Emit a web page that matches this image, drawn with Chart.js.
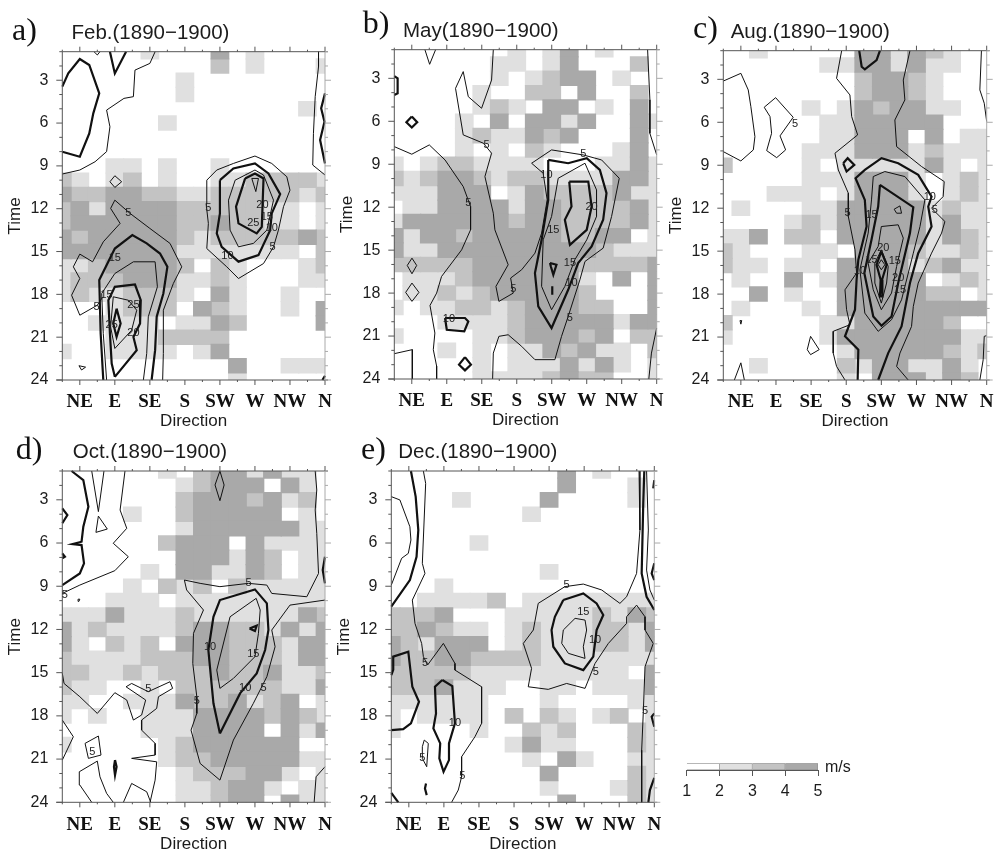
<!DOCTYPE html>
<html><head><meta charset="utf-8">
<style>
html,body{margin:0;padding:0;background:#fff;width:999px;height:852px;overflow:hidden}
canvas{position:absolute;display:block;filter:blur(0.4px)}
</style>
<script src="https://cdn.jsdelivr.net/npm/chart.js@4/dist/chart.umd.min.js"></script>
</head><body>
<script>
// ---- categories and tick labels ----
const directionLabels = {2:'NE',4:'E',6:'SE',8:'S',10:'SW',12:'W',14:'NW',16:'N'};
const timeTicks = [3,6,9,12,15,18,21,24];
const bandColors = ['#ffffff','#e0e0e0','#c3c3c3','#a9a9a9'];
const scaleTicks = [1,2,3,4,5];

// ---- wind-speed band per hour (rows 1..24) and direction sector (columns 1..16) ----
const febBands = ["0000010003010000","0000000002010001","0000000100000000","0000000100000000","0000000000000010","0000001000000000","0000000000000000","0000000000000000","0001101001000000","2101201001122221","3223322112222212","2313333222221101","2333333223221101","3233333212222232","3333333111111102","1123333202100012","1222333112100011","1211222103100100","0001222032100103","0011110113200003","0001112222000000","1001111013000000","0000000000300111","0000000000100000"];
const mayBands = ["0000000101301000","0000001101300020","0000001012330100","0000010022030020","0000012103301030","0000103033130031","0000121132300030","0000101021000130","1012211110001131","2123321221111331","1113330132222311","0113333133222231","1333333233222231","3133233333223301","3113333333332111","2222233333322223","0111233333310303","0112123333320003","1011221233322003","0001111233333133","1000011233323022","0001010113231102","0000010111313101","0000011112322001"];
const augBands = ["0010000033132100","0000001133131100","0000000023321000","0000000023321000","0000010132331100","0000001133333000","0000001133303011","0000011133312111","2000010111113101","0000011133310121","0001110133310121","0100011333331211","0000121333331311","1130220333331321","2100011033321121","2110110333312311","0100301333330121","0030100333332201","0100010333333333","2000001133333200","1000001333333311","0000000133333212","0010000213311310","0000000103331320"];
const octBands = ["0000001023313110","0000000123330310","0000000233323120","0000100233333010","0000000133333311","0000002333031111","0000000333132011","0000010331132011","0000102120211111","0001110111111111","1113111211111132","3121111233221313","3102120333222133","2111122233222133","2211212223223112","2110010222222113","1100111322312301","1010011133332321","0000011133330313","1000001233333300","0000001223333311","0000000122233101","0000000112331011","0000000112330311"];
const decBands = ["0000000000301000","0000000000300010","0000100003000010","0000000010000000","0000000000000000","0000010000000000","0000000000000000","0000000001000000","0001000000000000","0011112011111111","2223000111112132","2232110121112213","3213330121112213","3223322221111111","2222211111111103","2223111001101113","1111110001000011","1011110202101201","1000010021200021","0000000131100021","0000000010310011","0000000003000021","0000000001000121","0000000000300021"];

// ---- contours as [direction sector, hour] ----
const febThin = [
[[1,9.57],[2,9.29],[2.87,8.71],[3.53,8],[3.72,6.26],[3.53,5.09],[4.52,4.27],[5.06,4.15],[5.15,2.29],[6,1.82],[6.3,1]],
[[2.81,1],[3,1.23],[3.15,1]],
[[15.63,1],[15.63,2.05],[15.44,4.15],[15.34,6.72],[15.3,8.94],[16,9.64]],
[[4,9.69],[4.39,10.11],[4,10.51],[3.72,10.11],[4,9.69]],
[[9.25,10],[9.82,9.29],[10.77,8.83],[12,8.31],[12.96,8.83],[13.82,9.76],[14,10.7],[13.63,11.86],[13.34,13.5],[13.06,14.67],[12.49,15.84],[11.06,16.89],[10.39,16.07],[9.25,14.79],[9.34,13.03],[9.21,11.63],[9.25,10]],
[[10.49,11.4],[10.87,10],[12,9.29],[12.49,9.64],[13.06,11.4],[12.68,13.5],[11.91,14.43],[11.06,14.67],[10.58,13.5],[10.49,11.4]],
[[11.82,9.88],[12.2,9.88],[12.05,10.8],[11.82,9.88]],
[[6.73,24],[6.77,22.14],[6.77,19.11],[7.34,17.24],[7.82,16.07],[7.15,14.43],[6,13.38],[4.87,12.33],[4,11.4],[3.76,11.98],[4.3,13.03],[3.34,14.32],[2.73,15.72],[2,15.18],[1.63,16.07],[2,16.89],[1.53,18.06],[2,19.46],[3,18.76],[3.3,18.2]],
[[3.53,24],[3.34,20.74],[3.25,17.94],[4,16.54],[5.06,15.72],[6.3,15.72],[6.43,17.47],[5.91,19.57],[5.82,22.14],[5.63,24]],
[[4,21.79],[3.76,20.28],[3.91,18.17],[4.77,18.41],[5.25,19.11],[4.96,20.51],[4,21.79]],
[[1.95,23],[2.33,23.1],[2.1,23.3],[1.95,23]]
];
const febThick = [
[[1,3.45],[1.34,2.52],[2,1.51],[2.54,1.93],[3.11,3.92],[2.77,5.32],[2.54,6.72],[2,8.36],[1,8.01]],
[[3.72,1],[4,2.52],[4.64,1]],
[[16,3.92],[15.78,4.97],[15.97,5.91],[15.72,7.19],[16,8.83]],
[[10,10],[10.77,9.18],[12,8.83],[12.77,9.53],[13.44,10.98],[12.96,12.33],[12.87,13.5],[12.2,15.25],[11.06,15.71],[10.1,14.67],[9.82,13.73],[10,12.33],[10,10]],
[[11.44,9.88],[12,9.53],[12.49,9.88],[12.39,13.27],[12.1,13.73],[11.06,13.03],[10.92,11.86],[11.44,9.88]],
[[3.34,24],[3.19,20.74],[3.11,17],[4,14.79],[5,13.85],[5.82,14.43],[6.58,15.14],[7,16.07],[6.77,17.94],[6.39,19.57],[6.3,21.91],[6.1,24]],
[[4,23.78],[3.82,22.85],[3.72,20.74],[3.63,18.41],[4,17.47],[5.15,17.31],[5.48,18.41],[5.44,20.04],[5.06,20.98],[5.25,21.91],[4,23.78]],
[[4.1,19],[4.33,20.04],[4.1,20.98],[3.91,20.04],[4.1,19]],
[[15.85,24],[16,23.7]]
];
const febNotes = [[4.77,12.28,'5'],[2.96,18.87,'5'],[9.34,11.98,'5'],[13,14.67,'5'],[11.91,13.03,'25'],[12.43,11.75,'20'],[12.68,12.57,'15'],[12.96,13.38,'10'],[10.43,15.32,'10'],[4,15.42,'15'],[3.53,18.06,'15'],[5.06,18.76,'25'],[5.06,20.74,'20'],[3.82,20.16,'25']];

const mayThin = [
[[2.75,1],[3.02,2.02],[3.36,1]],
[[1,7.77],[2,8.3],[3,7.65],[3.9,8.7],[4.94,10.56],[5.36,11.95],[5.36,13.58],[4.85,14.98],[3.7,16.84],[3.42,18],[3.04,18.86],[3.32,20.79],[3.23,21.95],[3.42,23.1],[3.42,24]],
[[1,22.23],[2.03,21.95],[2.03,24]],
[[6.66,1],[6.56,3.12],[5.99,5.09],[5.23,4.28],[4.94,2.53],[4.5,3.7],[4.94,6.95],[6.09,7.53],[6.56,8.23],[6.18,9.86],[6.66,12.42],[6.75,13.58],[7.51,16.02],[6.81,17.53],[6.98,18.58],[7.8,18],[7.65,16.95],[8.28,16.37],[9.04,15.21],[9.42,13.81],[9.74,11.49],[9.51,9.63],[8.85,8.93],[9.99,8],[11.8,8.35],[12.85,8.7],[13.86,9.98],[13.42,12.65],[12.94,14.86],[11.9,15.79],[11.61,17.07],[10.94,19.63],[10.56,21.02],[10.18,22.65],[9.04,22.65],[8.28,21.72],[7.51,20.91],[6.98,21.02],[6.66,22.19],[6.62,24]],
[[10.37,9.98],[11.9,8.93],[12.56,10.79],[12.56,12.65],[12,14.28],[11.32,15.67],[10.75,17.53],[9.99,19.16],[9.42,17.53],[9.51,14.28],[9.99,12.65],[10.37,9.98]],
[[2.01,15.56],[2.28,16.07],[2.01,16.65],[1.74,16.07],[2.01,15.56]],
[[2.01,17.3],[2.41,17.95],[2.01,18.58],[1.65,17.95],[2.01,17.3]],
[[15.48,1],[15.61,4.5],[15.61,6.84],[16,8.35]],
[[16,20.44],[15.7,22.19],[15.55,24]]
];
const mayThick = [
[[1,2.84],[1.19,3],[1.19,4.05],[1,4.16]],
[[2,5.67],[2.31,6.07],[2,6.44],[1.69,6.07],[2,5.67]],
[[9.8,8.7],[10.94,8.93],[12,8.58],[12.75,9.4],[13.13,11.02],[12.94,12.88],[12.28,14.74],[11.51,15.9],[10.94,17.77],[9.99,20.44],[9.23,18.93],[9.04,16.6],[9.42,14.28],[9.8,11.49],[9.8,8.7]],
[[11,10.21],[12.09,10.21],[12.28,11.95],[12,13.58],[11.04,14.63],[10.75,12.88],[11.13,11.95],[11,10.21]],
[[9.9,15.9],[10.27,16.02],[10.09,16.72],[9.95,16.14],[9.9,15.9]],
[[10.03,17.53],[10.03,18.12]],
[[3.9,19.74],[5.04,19.74],[5.23,19.98],[5,20.67],[4,20.56],[3.9,19.74]],
[[5.04,22.47],[5.38,23],[5.04,23.4],[4.7,23],[5.04,22.47]]
];
const mayNotes = [[5.23,11.72,'5'],[6.28,7.65,'5'],[7.8,17.7,'5'],[11.04,19.74,'5'],[11.8,8.28,'5'],[9.7,9.74,'10'],[10.09,13.58,'15'],[11.04,15.9,'15'],[11.13,17.26,'10'],[12.28,11.95,'20'],[4.12,19.81,'10']];

const augThin = [
[[1,3.12],[2,2.58],[2.42,3.74],[2.57,4.91],[2.8,7],[2.71,7.93],[2,8.7],[1,8.05]],
[[3.33,4.95],[3.98,4.28],[4.98,5.65],[4.23,6.95],[4.55,7.93],[4.04,8.47],[3.47,7.98],[3.75,6.77],[3.66,5.6],[3.33,4.95]],
[[7.74,1],[7.45,2.93],[8.21,4.09],[8.31,5.6],[8.65,6.88],[7.36,8.16],[7.55,9.33],[8.12,10.95],[8.12,12.58],[8.5,14.91],[8.59,16.53],[7.93,17.7],[8.02,19.09],[8.21,20.14],[7.26,20.6],[7.26,22.12],[7.45,23.05],[7.93,24]],
[[11.63,1],[11.25,3.05],[11.34,4.44],[10.77,5.84],[10.87,7.7],[12.29,9.09],[13.58,10.14],[13.52,11.19],[12.86,12],[13.62,12.93],[13.43,13.74],[12.86,15.14],[12.1,17.23],[11.82,18.86],[11.72,20.26],[11.06,22.12],[10.87,23.05],[11.53,24]],
[[9.54,9.79],[10.2,9.44],[11.34,9.79],[12.48,11.42],[12.2,13.28],[11.82,15.14],[11.15,18.4],[10.58,19.79],[9.82,20.6],[9.06,19.33],[8.78,16.3],[9.25,13.74],[9.44,11.42],[9.54,9.79]],
[[10,13.28],[10.96,13.16],[11.25,14.09],[10.87,16.07],[10.58,17.93],[10,19.09],[9.54,17.7],[9.25,15.84],[9.82,14.67],[10,13.28]],
[[10,14.91],[10.39,16.07],[10.3,17.23],[10,18.63],[9.63,17.23],[9.63,15.84],[10,14.91]],
[[9.82,15.95],[10,15.6],[10.2,15.95],[10,16.3],[9.82,15.95]],
[[10.73,12.07],[11.06,11.84],[11.15,12.35],[10.87,12.35],[10.73,12.07]],
[[1.95,19.85],[2.05,19.85],[2,20.1],[1.95,19.85]],
[[5.97,20.95],[6.46,21.88],[5.97,22.23],[5.78,21.88],[5.97,20.95]],
[[1.63,24],[2,22.8],[2.2,24]],
[[15.7,1],[15.61,3.74],[15.86,4.67],[16,5.95]],
[[16,20.9],[15.86,20.95],[15.8,22.58],[15.61,24]]
];
const augThick = [
[[8.74,1],[8.88,2.12],[9.06,2.3],[9.73,1.65],[9.92,1]],
[[9.82,24],[10.39,22.12],[11.15,20.26],[11.63,17.23],[12.1,15.14],[12.86,13.28],[12.67,11.88],[12.86,11.19],[12.1,9.67],[10.96,8.86],[10.01,8.51],[9.06,9.33],[8.53,9.91],[9.06,11.42],[9.16,13.28],[8.69,15.6],[8.59,17],[8.5,19.09],[7.93,20.95],[8.69,21.88],[8.65,24]],
[[9.92,10.37],[11.82,11.93],[11.63,13.74],[10.96,17.23],[10.58,19.56],[10.01,20.21],[9.54,19.56],[9.03,16.53],[9.44,14.21],[9.82,11.88],[9.92,10.37]],
[[10,15.02],[10.3,15.95],[10.04,17],[10.06,18.16],[9.92,18.16],[9.96,17],[9.73,15.95],[10,15.02]],
[[7.83,8.86],[8.08,8.51],[8.46,8.98],[8.02,9.44],[7.83,8.86]]
];
const augNotes = [[5.08,6.14,'5'],[8.08,12.35,'5'],[9.44,12.47,'15'],[12.76,11.19,'10'],[13.05,12.12,'5'],[10.11,14.8,'20'],[10.77,15.72,'15'],[8.78,16.35,'10'],[9.44,15.6,'15'],[10.96,16.88,'20'],[11.06,17.7,'15']];

const octThin = [
[[1,9.5],[2,8.92],[4,7.92],[4.77,6.95],[3.91,6.02],[4.68,4.98],[4.3,3.71],[4.58,1]],
[[2.68,1],[3.06,3.82],[3.38,1]],
[[3.06,4.13],[3.57,5.03],[2.92,5.26],[3.06,4.13]],
[[1.9,9.9],[2,9.9],[1.95,10.05],[1.9,9.9]],
[[10,1],[9.72,1.97],[10,3.06],[10.24,1.97],[10,1]],
[[15.44,1],[15.53,2.32],[15.44,3.71],[15.53,5.33],[15.63,8.11],[14.96,9.73],[12.96,9.5],[12.68,8.92],[11.63,8.8],[10,9.03],[8.87,8.8],[7.97,8.57],[8.1,9.26],[9.06,10.65],[8.49,12.27],[8.45,14.36],[8.68,16.67],[8.68,17.83],[8.35,18.99],[8.87,21.3],[10,22.46],[10.77,19.68],[11.91,17.13],[12.68,15.28],[13.15,13.2],[12.96,12.04],[14,10.31],[16,9.96]],
[[10,16.09],[9.82,14.82],[10.58,11.12],[12.07,9.84],[12.3,10.65],[12.2,12.27],[12,13.89],[10.77,15.4],[10,16.09]],
[[1,15.05],[1.1,15.75],[2,16.67],[3,17.83],[4,16.39],[4.68,16.9],[5.06,18.29],[5.53,17.94],[5.76,16.9],[4.64,15.98],[4.96,15.75],[5.91,16.32],[7.15,15.63],[7.3,16.09],[6.49,16.67],[6.39,17.48],[5.53,18.29],[5.53,18.99],[6.3,19.91],[6.3,20.72],[4.96,20.95],[6.39,21.19],[6.3,22.46],[6.01,24]],
[[1,18.29],[1.63,19.45],[1,21.07]],
[[2.3,19.91],[3.06,19.4],[3.21,20.72],[2.49,20.95],[2.3,19.91]],
[[2.68,24],[2,22.8],[1.97,21.88],[3,21.14],[3.15,22.23],[3.53,23.38],[3.91,24]],
[[4.49,24],[4.96,22.69],[5.82,23.27],[6.05,24]],
[[16,21.53],[15.49,22.23],[15.38,24]]
];
const octThick = [
[[1.53,1],[2.2,1.63],[2.49,3.48],[2.2,4.87],[2.1,5.91],[1.59,6.07],[2.1,6.14],[2.24,7.41],[2,8.11],[1,8.92]],
[[1,3.59],[1.29,4.06],[1,4.63]],
[[1,6.72],[1.15,6.95],[1,7.06]],
[[16,6.95],[15.87,7.87],[16,8.8]],
[[10,19.22],[9.63,17.13],[9.34,13.43],[9.63,11.12],[10,9.96],[12,9.22],[12.68,10.19],[12.77,12.04],[12.58,13.43],[12.1,15.05],[11.15,16.44],[10,19.22]],
[[11.69,11.93],[12.1,11.74],[12,12.11],[11.69,11.93]],
[[4.01,21.07],[3.95,21.53],[4.01,22.11],[4.1,21.53],[4.01,21.07]]
];
const octNotes = [[1.15,9.61,'5'],[11.63,8.75,'5'],[9.44,13.2,'10'],[11.91,13.71,'15'],[11.44,16.09,'10'],[12.49,16.09,'5'],[8.68,16.95,'5'],[5.91,16.16,'5'],[2.71,20.54,'5']];

const decThin = [
[[2.83,1],[2.96,1.86],[2.77,7.41],[2.92,8.11],[2.2,9.96],[2.35,11.58],[2.73,12.97],[2.83,13.89],[3.07,14.47],[3.97,12.97],[4.63,14.36],[4.63,14.82],[6.15,15.98],[6.15,18.52],[5.77,19.45],[5.01,20.84],[5.01,22.23],[4.82,23.15],[4.44,24]],
[[1,2.78],[1.49,3.01],[2.06,4.87],[2.12,5.79],[1.97,6.72],[1.59,7.06],[1,8.92]],
[[2.88,19.68],[3.11,19.91],[3.02,21.53],[2.77,20.95],[2.77,20.14],[2.88,19.68]],
[[15.13,1],[15.18,5.1],[14.99,8.11],[14.42,9.73],[14.04,10.19],[13,9.26],[11.95,8.85],[10.9,9.03],[9.38,10.19],[9.1,12.04],[8.53,12.97],[9,14.7],[8.81,15.98],[9.95,16.16],[11,15.75],[12.05,16.09],[12.62,14.36],[13.38,12.97],[14.42,11.58],[14.42,11.12],[14.99,10.31],[15.47,11.12],[15.47,12.04],[15.94,12.97],[15.47,14.59],[15.37,17.83],[15.28,20.38],[15.28,24]],
[[10.81,12.04],[11.48,11.23],[12.05,11.35],[12.14,12.04],[11.95,13.2],[12.05,14.01],[11.1,13.66],[10.72,12.97],[10.81,12.04]],
[[15.56,1],[15.66,5.1],[15.56,7.88],[15.75,9.26],[16,9.96]]
];
const decThick = [
[[2.12,1],[2.39,2.78],[2.54,5.1],[2.44,6.95],[2.06,8.57],[1,10.42]],
[[1,15.17],[1.11,14.8],[1.11,13.89],[1.97,13.55],[2.2,15.98],[2.58,17.02],[2.12,18.52],[1.68,18.92],[1,18.99]],
[[3.91,15.51],[4.48,15.93],[4.63,18.52],[4.29,19.91],[4.29,21.07],[3.98,21.88],[3.74,20.95],[3.79,19.91],[3.4,18.87],[3.55,17.83],[3.49,15.98],[3.91,15.51]],
[[2.98,22.69],[2.92,23.04],[3.02,23.5]],
[[1,23.34],[1.4,24]],
[[10.81,9.96],[11.95,9.5],[12.71,10.19],[13.09,11],[12.71,12.04],[12.52,13.89],[11.95,14.82],[10.9,14.36],[10.24,13.2],[10.14,12.04],[10.33,11.12],[10.81,9.96]],
[[15.43,1],[15.37,3.25],[15.28,8.11],[15.56,9.73],[16,10.65]],
[[16,1.63],[15.94,2.2]],
[[16,7.41],[15.85,8.11],[16,8.57]],
[[16,22.3],[15.75,23.15],[15.66,24]],
[[16,17.83],[15.85,18.06],[16,18.75]]
];
const decNotes = [[11,8.92,'5'],[11.95,10.77,'15'],[12.62,12.74,'10'],[12.66,14.94,'5'],[2.92,14.36,'5'],[4.63,18.52,'10'],[2.77,20.95,'5'],[5.05,22.18,'5'],[15.47,17.67,'5']];

// ---- panels: text, plot rectangle [left, top, right, bottom] ----
const panels = [
 {tag:'a)',title:'Feb.(1890\u22121900)',bands:febBands,thin:febThin,thick:febThick,notes:febNotes,box:[62.3,51.7,325,380],tagAt:[12,40],titleAt:[71.5,39]},
 {tag:'b)',title:'May(1890\u22121900)',bands:mayBands,thin:mayThin,thick:mayThick,notes:mayNotes,box:[394.3,49.7,656.7,379],tagAt:[362.7,33],titleAt:[403,37]},
 {tag:'c)',title:'Aug.(1890\u22121900)',bands:augBands,thin:augThin,thick:augThick,notes:augNotes,box:[723.3,50.7,986.7,380],tagAt:[693,38],titleAt:[730.7,38]},
 {tag:'d)',title:'Oct.(1890\u22121900)',bands:octBands,thin:octThin,thick:octThick,notes:octNotes,box:[62.3,471,325,802.3],tagAt:[15.7,459],titleAt:[72.7,458]},
 {tag:'e)',title:'Dec.(1890\u22121900)',bands:decBands,thin:decThin,thick:decThick,notes:decNotes,box:[391.3,471,654.3,802.3],tagAt:[361,459],titleAt:[398.3,458]}
];

const SANS='"Liberation Sans",Arial,sans-serif', SERIF='"Liberation Serif","Times New Roman",serif';
const INK='#1c1c1c', AXIS='#555', FAINT='#aaa';
const M={l:62,t:52,r:22,b:56};

const framePlugin={id:'frame',afterDatasetsDraw(chart,args,o){
  const {ctx,chartArea:a,scales:{x,y}}=chart;
  ctx.save();
  // left, top and bottom edges with their ticks
  ctx.strokeStyle=AXIS;ctx.lineWidth=1;
  ctx.beginPath();
  ctx.moveTo(a.left,a.top);ctx.lineTo(a.left,a.bottom);
  ctx.moveTo(a.left,a.top);ctx.lineTo(a.right+3,a.top);
  ctx.moveTo(a.left-6,a.bottom);ctx.lineTo(a.right+3,a.bottom);
  for(let v=1;v<=16;v++){const p=x.getPixelForValue(v),maj=v%2===0;
    ctx.moveTo(p,a.bottom);ctx.lineTo(p,a.bottom+(maj?5:2));
    ctx.moveTo(p,a.top);ctx.lineTo(p,a.top-(maj?5:2));}
  for(let v=1;v<=24;v++){const p=y.getPixelForValue(v),maj=v%3===0;
    ctx.moveTo(a.left,p);ctx.lineTo(a.left-(maj?6:3),p);}
  ctx.stroke();
  // right edge is faint in the picture
  ctx.strokeStyle=FAINT;
  ctx.beginPath();
  ctx.moveTo(a.right,a.top);ctx.lineTo(a.right,a.bottom);
  for(let v=1;v<=24;v++){const p=y.getPixelForValue(v),maj=v%3===0;
    ctx.moveTo(a.right,p);ctx.lineTo(a.right+(maj?6:3),p);}
  ctx.stroke();
  // contour value labels
  ctx.fillStyle='#222';ctx.font='11px '+SANS;ctx.textAlign='center';ctx.textBaseline='middle';
  (o.notes||[]).forEach(n=>ctx.fillText(n[2],x.getPixelForValue(n[0]),y.getPixelForValue(n[1])));
  // panel tag and title
  ctx.textAlign='left';ctx.textBaseline='alphabetic';
  ctx.fillStyle='#111';ctx.font='32px '+SERIF;ctx.fillText(o.tag,o.tagAt[0]-o.ox,o.tagAt[1]-o.oy);
  ctx.fillStyle=INK;ctx.font='20.5px '+SANS;ctx.fillText(o.title,o.titleAt[0]-o.ox,o.titleAt[1]-o.oy);
  ctx.restore();
}};

panels.forEach(p=>{
  const [L,T,R,B]=p.box;
  const ox=Math.floor(L-M.l), oy=Math.floor(T-M.t);
  const w=Math.ceil(R-ox+M.r), h=Math.ceil(B-oy+M.b);
  const c=document.createElement('canvas');
  c.width=w;c.height=h;c.style.left=ox+'px';c.style.top=oy+'px';c.style.width=w+'px';c.style.height=h+'px';
  document.body.appendChild(c);
  const cellW=(R-L)/15;
  const datasets=[];
  [1,2,3].forEach(level=>{
    const data=[];
    p.bands.forEach((row,i)=>{for(let j=0;j<16;j++){ if(+row[j]===level) data.push({x:j+1,y:[i+1-0.52,i+1+0.52]}); }});
    datasets.push({type:'bar',label:'band'+level,data,backgroundColor:bandColors[level],borderWidth:0,barThickness:cellW+0.6,grouped:false,clip:0,order:10-level});
  });
  const addLines=(list,width)=>list.forEach(line=>datasets.push({type:'scatter',showLine:true,data:line.map(q=>({x:q[0],y:q[1]})),borderColor:'#111',borderWidth:width,pointRadius:0,tension:0,fill:false,clip:1,order:1}));
  addLines(p.thin,1);
  addLines(p.thick,2.2);
  new Chart(c,{type:'bar',data:{datasets},plugins:[framePlugin],options:{
    responsive:false,animation:false,devicePixelRatio:1,
    layout:{padding:{top:T-oy,right:w-(R-ox),left:0,bottom:0}},
    plugins:{legend:{display:false},tooltip:{enabled:false},frame:{notes:p.notes,tag:p.tag,title:p.title,tagAt:p.tagAt,titleAt:p.titleAt,ox,oy}},
    scales:{
      x:{type:'linear',min:1,max:16,offset:false,grid:{display:false,drawTicks:false},border:{display:false},
        afterFit(s){s.height=h-(B-oy);s.paddingLeft=0;s.paddingRight=0;},
        ticks:{stepSize:1,autoSkip:false,maxRotation:0,padding:11,color:'#111',font:{family:SERIF,size:19,weight:'bold'},callback:v=>directionLabels[v]||''},
        title:{display:true,text:'Direction',color:INK,font:{family:SANS,size:17},padding:{top:0,bottom:4}}},
      y:{type:'linear',min:1,max:24,reverse:true,grid:{display:false,drawTicks:false},border:{display:false},
        afterFit(s){s.width=L-ox;s.paddingTop=0;s.paddingBottom=0;},
        ticks:{stepSize:1,autoSkip:false,padding:14,color:INK,font:{family:SANS,size:16},callback:v=>timeTicks.includes(v)?String(v):''},
        title:{display:true,text:'Time',color:INK,font:{family:SANS,size:17},padding:{top:5,bottom:0}}}
    }}});
});

// colour scale
(function(){
  const L=686.7,R=818,T=763.3,B=770,ox=670,oy=750,w=190,h=60;
  const c=document.createElement('canvas');
  c.width=w;c.height=h;c.style.left=ox+'px';c.style.top=oy+'px';c.style.width=w+'px';c.style.height=h+'px';
  document.body.appendChild(c);
  const datasets=bandColors.map((col,i)=>({data:[[scaleTicks[i],scaleTicks[i+1]]],backgroundColor:col,borderColor:'#888',borderWidth:0.8,barPercentage:1,categoryPercentage:1,grouped:false}));
  new Chart(c,{type:'bar',data:{labels:['m/s'],datasets},plugins:[{id:'unit',afterDraw(ch){const g=ch.ctx;g.save();g.fillStyle=INK;g.font='16px '+SANS;g.textBaseline='middle';g.textAlign='left';g.fillText('m/s',825-ox,768-oy);g.restore();}}],options:{
    indexAxis:'y',responsive:false,animation:false,devicePixelRatio:1,
    layout:{padding:{left:L-ox,right:w-(R-ox),top:T-oy,bottom:0}},
    plugins:{legend:{display:false},tooltip:{enabled:false}},
    scales:{
      y:{display:false},
      x:{type:'linear',min:1,max:5,grid:{drawOnChartArea:false,tickLength:6,tickColor:'#555'},border:{color:'#555',width:1},
        afterFit(s){s.height=h-(B-oy);s.paddingLeft=0;s.paddingRight=0;},
        ticks:{stepSize:1,padding:6,color:INK,font:{family:SANS,size:16},maxRotation:0}}
    }}});
})();
</script>
</body></html>
